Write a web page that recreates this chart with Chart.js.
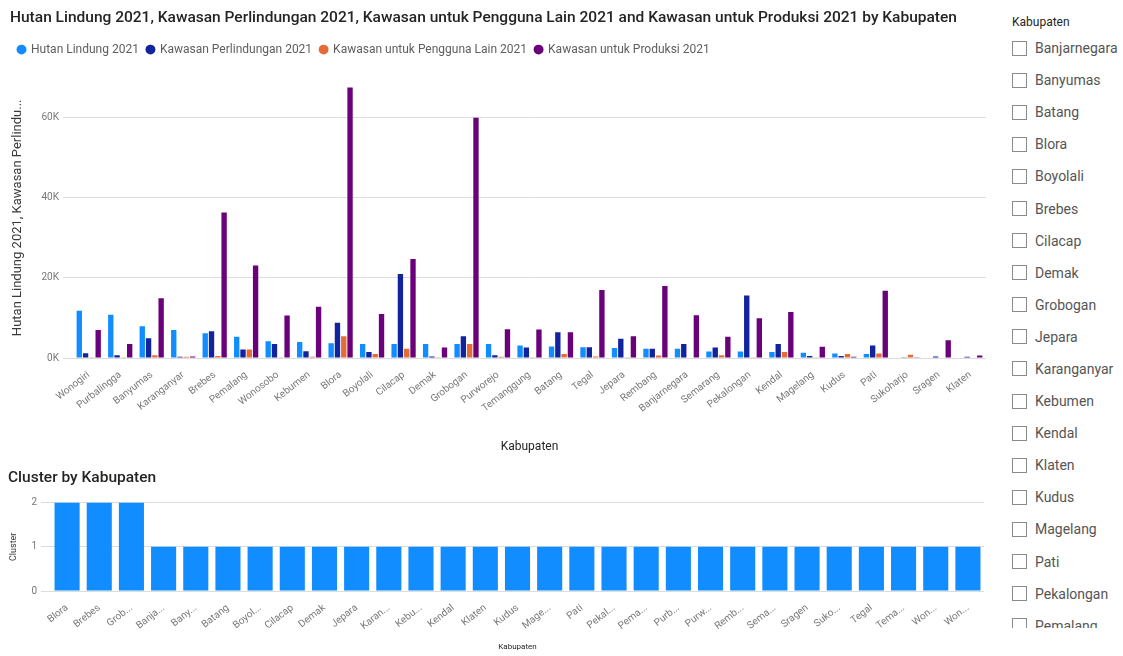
<!DOCTYPE html>
<html>
<head>
<meta charset="utf-8">
<script src="https://cdn.jsdelivr.net/npm/chart.js@4/dist/chart.umd.min.js"></script>
<style>
  body { margin: 0; background: #fff; width: 1123px; height: 656px; overflow: hidden; font-family: Roboto, "Noto Sans", sans-serif; }
  #topWrap { position: absolute; left: 0; top: 0; width: 995px; height: 458px; }
  #bottomWrap { position: absolute; left: 0; top: 462px; width: 995px; height: 194px; }
  #slicer { position: absolute; left: 1012px; top: 12px; width: 111px; height: 616px; overflow: hidden; color: #252423; }
  #slicer .head { font-size: 12px; height: 20px; line-height: 20px; color: #252423; }
  #slicer .item { height: 32.1px; display: flex; align-items: center; font-size: 14px; color: #555; white-space: nowrap; }
  #slicer .box { width: 13px; height: 13px; border: 1px solid #8a8a8a; margin-right: 8px; flex: none; }
</style>
</head>
<body>
<div id="topWrap"><canvas id="topChart"></canvas></div>
<div id="bottomWrap"><canvas id="bottomChart"></canvas></div>
<div id="slicer"></div>
<script>
// === Data ===
const kabupaten = ['Wonogiri', 'Purbalingga', 'Banyumas', 'Karanganyar', 'Brebes', 'Pemalang', 'Wonosobo', 'Kebumen', 'Blora', 'Boyolali',
  'Cilacap', 'Demak', 'Grobogan', 'Purworejo', 'Temanggung', 'Batang', 'Tegal', 'Jepara', 'Rembang', 'Banjarnegara',
  'Semarang', 'Pekalongan', 'Kendal', 'Magelang', 'Kudus', 'Pati', 'Sukoharjo', 'Sragen', 'Klaten'];
const hutanLindung = [11800, 10800, 7900, 7000, 6200, 5300, 4200, 4000, 3700, 3500, 3500, 3500, 3500, 3500, 3100,
  2900, 2700, 2500, 2300, 2300, 1600, 1600, 1500, 1300, 1100, 1000, 100, 100, 100];
const kawasanPerlindungan = [1200, 700, 4900, 300, 6700, 2100, 3500, 1700, 8800, 1500, 21000, 400, 5400, 700, 2600,
  6400, 2700, 4800, 2300, 3500, 2600, 15600, 3500, 500, 500, 3100, 200, 400, 300];
const kawasanPenggunaLain = [200, 200, 700, 300, 500, 2100, 200, 300, 5400, 1000, 2300, 200, 3500, 300, 200,
  1000, 400, 200, 600, 100, 700, 200, 1500, 200, 1000, 1100, 800, 100, 100];
const kawasanProduksi = [7000, 3500, 14900, 400, 36300, 23100, 10600, 12800, 67500, 11000, 24700, 2600, 60000, 7200, 7100,
  6400, 17000, 5400, 18000, 10700, 5300, 9900, 11500, 2800, 300, 16800, 200, 4400, 600];
const yTicksTop = [0, 20000, 40000, 60000];

const clusterKabupaten = ['Blora', 'Brebes', 'Grobogan', 'Banjarnegara', 'Banyumas', 'Batang', 'Boyolali', 'Cilacap', 'Demak', 'Jepara',
  'Karanganyar', 'Kebumen', 'Kendal', 'Klaten', 'Kudus', 'Magelang', 'Pati', 'Pekalongan', 'Pemalang', 'Purbalingga',
  'Purworejo', 'Rembang', 'Semarang', 'Sragen', 'Sukoharjo', 'Tegal', 'Temanggung', 'Wonogiri', 'Wonosobo'];
const clusterTickLabels = ['Blora', 'Brebes', 'Grob...', 'Banja...', 'Bany...', 'Batang', 'Boyol...', 'Cilacap', 'Demak', 'Jepara',
  'Karan...', 'Kebu...', 'Kendal', 'Klaten', 'Kudus', 'Mage...', 'Pati', 'Pekal...', 'Pema...', 'Purb...',
  'Purw...', 'Remb...', 'Sema...', 'Sragen', 'Suko...', 'Tegal', 'Tema...', 'Won...', 'Won...'];
const clusterValues = [2, 2, 2, 1, 1, 1, 1, 1, 1, 1, 1, 1, 1, 1, 1, 1, 1, 1, 1, 1, 1, 1, 1, 1, 1, 1, 1, 1, 1];

const slicerItems = ['Banjarnegara', 'Banyumas', 'Batang', 'Blora', 'Boyolali', 'Brebes', 'Cilacap', 'Demak', 'Grobogan', 'Jepara',
  'Karanganyar', 'Kebumen', 'Kendal', 'Klaten', 'Kudus', 'Magelang', 'Pati', 'Pekalongan', 'Pemalang'];

const FONT = 'Roboto, "Noto Sans", sans-serif';
const gridStyle = { color: '#dcdcdc', borderDash: [1, 3], tickLength: 10, drawTicks: true };

// extra room under the legend, like the Power BI visual
const legendGap = {
  id: 'legendGap',
  beforeInit(chart) {
    const fit = chart.legend.fit;
    chart.legend.fit = function () {
      fit.bind(chart.legend)();
      this.height += 12;
    };
  }
};

// === Top chart ===
new Chart(document.getElementById('topChart'), {
  type: 'bar',
  data: {
    labels: kabupaten,
    datasets: [
      { label: 'Hutan Lindung 2021', data: hutanLindung, backgroundColor: '#118DFF' },
      { label: 'Kawasan Perlindungan 2021', data: kawasanPerlindungan, backgroundColor: '#12239E' },
      { label: 'Kawasan untuk Pengguna Lain 2021', data: kawasanPenggunaLain, backgroundColor: '#E66C37' },
      { label: 'Kawasan untuk Produksi 2021', data: kawasanProduksi, backgroundColor: '#6B007B' }
    ]
  },
  plugins: [legendGap],
  options: {
    responsive: true,
    maintainAspectRatio: false,
    animation: false,
    datasets: { bar: { categoryPercentage: 0.8, barPercentage: 0.85 } },
    layout: { padding: { left: 10, right: 9, top: 0, bottom: 0 } },
    plugins: {
      title: {
        display: true,
        text: 'Hutan Lindung 2021, Kawasan Perlindungan 2021, Kawasan untuk Pengguna Lain 2021 and Kawasan untuk Produksi 2021 by Kabupaten',
        align: 'start',
        color: '#252423',
        font: { family: FONT, size: 15.5, weight: '500' },
        padding: { top: 9, bottom: 8 }
      },
      legend: {
        align: 'start',
        labels: {
          usePointStyle: true,
          pointStyle: 'circle',
          boxWidth: 7,
          boxHeight: 7,
          padding: 8,
          color: '#605E5C',
          font: { family: FONT, size: 12 }
        }
      },
      tooltip: { enabled: false }
    },
    scales: {
      x: {
        grid: { display: false },
        border: { display: false },
        ticks: {
          color: '#7a7876',
          font: { family: FONT, size: 10 },
          minRotation: 38,
          maxRotation: 38,
          autoSkip: false
        },
        title: {
          display: true,
          text: 'Kabupaten',
          color: '#252423',
          font: { family: FONT, size: 12 },
          padding: { top: 17 }
        },
        afterFit: (scale) => { scale.height = 100; }
      },
      y: {
        min: 0,
        max: 70000,
        grid: gridStyle,
        border: { display: false },
        afterBuildTicks: (scale) => { scale.ticks = yTicksTop.map(v => ({ value: v })); },
        ticks: {
          color: '#7a7876',
          font: { family: FONT, size: 10 },
          padding: 4,
          callback: (v) => (v / 1000) + 'K'
        },
        title: {
          display: true,
          text: 'Hutan Lindung 2021, Kawasan Perlindu...',
          color: '#3b3a39',
          font: { family: FONT, size: 13 },
          padding: 0
        },
        afterFit: (scale) => { scale.width = 63; }
      }
    }
  }
});

// === Bottom chart ===
new Chart(document.getElementById('bottomChart'), {
  type: 'bar',
  data: {
    labels: clusterKabupaten,
    datasets: [{ label: 'Cluster', data: clusterValues, backgroundColor: '#118DFF' }]
  },
  options: {
    responsive: true,
    maintainAspectRatio: false,
    animation: false,
    datasets: { bar: { categoryPercentage: 0.78, barPercentage: 1 } },
    layout: { padding: { left: 8, right: 11, top: 0, bottom: 0 } },
    plugins: {
      title: {
        display: true,
        text: 'Cluster by Kabupaten',
        align: 'start',
        color: '#252423',
        font: { family: FONT, size: 15.5, weight: '500' },
        padding: { top: 7, bottom: 15 }
      },
      legend: { display: false },
      tooltip: { enabled: false }
    },
    scales: {
      x: {
        grid: { display: false },
        border: { display: false },
        ticks: {
          color: '#7a7876',
          font: { family: FONT, size: 10 },
          minRotation: 38,
          maxRotation: 38,
          autoSkip: false,
          callback: (v, i) => clusterTickLabels[i]
        },
        title: {
          display: true,
          text: 'Kabupaten',
          color: '#252423',
          font: { family: FONT, size: 8 },
          padding: { top: 12 }
        },
        afterFit: (scale) => { scale.height = 65; }
      },
      y: {
        min: 0,
        max: 2,
        grid: gridStyle,
        border: { display: false },
        ticks: {
          stepSize: 1,
          color: '#7a7876',
          font: { family: FONT, size: 10 },
          padding: 4
        },
        title: {
          display: true,
          text: 'Cluster',
          color: '#3b3a39',
          font: { family: FONT, size: 9 },
          padding: 0
        },
        afterFit: (scale) => { scale.width = 43; }
      }
    }
  }
});

// === Slicer ===
const slicer = document.getElementById('slicer');
slicer.innerHTML = '<div class="head">Kabupaten</div>' +
  slicerItems.map(name => `<div class="item"><span class="box"></span>${name}</div>`).join('');
</script>
</body>
</html>
